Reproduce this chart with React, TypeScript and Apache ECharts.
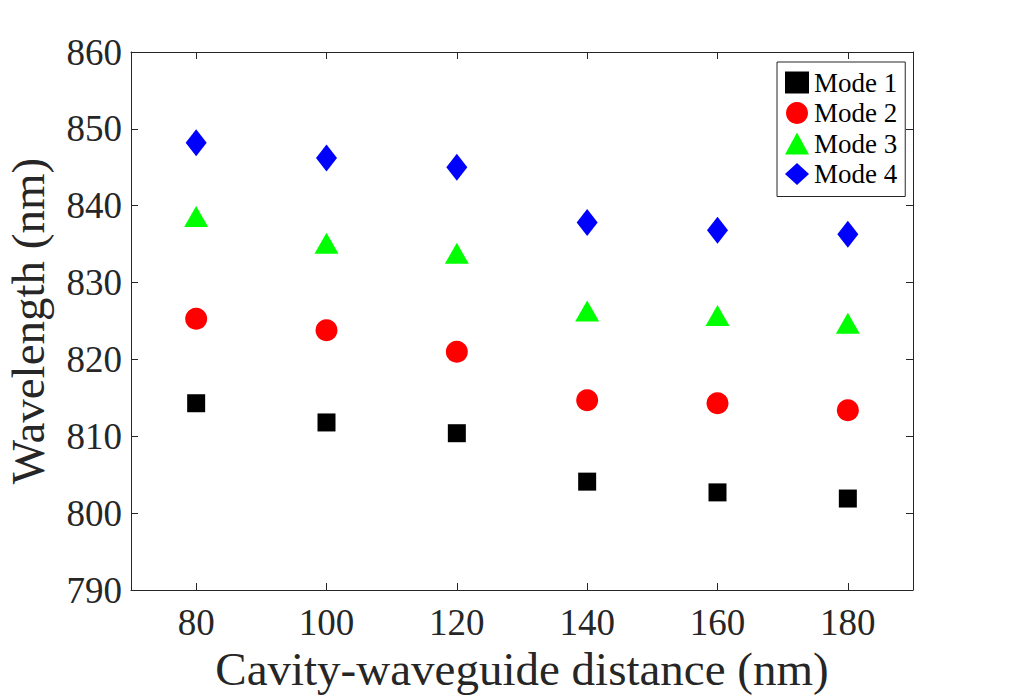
import React, { useEffect, useRef } from "react";
import * as echarts from "echarts";

// Cavity-waveguide distance (nm)
const distances = [80, 100, 120, 140, 160, 180];
// Resonance wavelength (nm) for each mode
const mode1 = [814.3, 811.8, 810.4, 804.1, 802.7, 801.9];
const mode2 = [825.3, 823.8, 821.0, 814.7, 814.3, 813.4];
const mode3 = [838.6, 835.1, 833.8, 826.3, 825.7, 824.7];
const mode4 = [848.2, 846.2, 845.0, 837.8, 836.8, 836.3];
const modeNames = ["Mode 1", "Mode 2", "Mode 3", "Mode 4"];

const FONT = "'Liberation Serif', 'Times New Roman', serif";
const INK = "#262626";

export default function App() {
  const ref = useRef<HTMLDivElement>(null);

  useEffect(() => {
    if (!ref.current) return;
    const chart = echarts.init(ref.current, undefined, { renderer: "svg" });

    const pairs = (ys: number[]) => distances.map((x, i) => [x, ys[i]]);

    const tickStyle = { show: true, inside: true, length: 7, lineStyle: { color: INK, width: 1 } };
    const lineStyle = { show: true, lineStyle: { color: INK, width: 1 } };

    chart.setOption({
      animation: false,
      backgroundColor: "#ffffff",
      grid: {
        left: 131,
        right: 98,
        top: 52,
        bottom: 110,
        containLabel: false,
        outerBoundsMode: "none",
      },
      legend: {
        orient: "vertical",
        left: 777,
        top: 62,
        padding: [7, 8, 9, 8],
        itemGap: 3.5,
        itemWidth: 24,
        itemHeight: 22,
        borderColor: INK,
        borderWidth: 1,
        backgroundColor: "#ffffff",
        data: modeNames,
        textStyle: { fontFamily: FONT, fontSize: 27, color: "#000", lineHeight: 22, padding: [0, 0, 0, 0] },
      },
      xAxis: [
        {
          type: "value",
          min: 70,
          max: 190,
          name: "Cavity-waveguide distance (nm)",
          nameLocation: "middle",
          nameGap: 52,
          nameTextStyle: { fontFamily: FONT, fontSize: 47, color: INK },
          axisLine: lineStyle,
          axisTick: { ...tickStyle, customValues: distances },
          axisLabel: { fontFamily: FONT, fontSize: 37, color: INK, margin: 14, customValues: distances },
          splitLine: { show: false },
        },
        {
          type: "value",
          position: "top",
          min: 70,
          max: 190,
          axisLine: lineStyle,
          axisTick: { ...tickStyle, customValues: distances },
          axisLabel: { show: false },
          splitLine: { show: false },
        },
      ],
      yAxis: [
        {
          type: "value",
          min: 790,
          max: 860,
          interval: 10,
          name: "Wavelength (nm)",
          nameLocation: "middle",
          nameGap: 80,
          nameTextStyle: { fontFamily: FONT, fontSize: 47, color: INK },
          axisLine: lineStyle,
          axisTick: tickStyle,
          axisLabel: { fontFamily: FONT, fontSize: 37, color: INK, margin: 9 },
          splitLine: { show: false },
        },
        {
          type: "value",
          position: "right",
          min: 790,
          max: 860,
          interval: 10,
          axisLine: lineStyle,
          axisTick: tickStyle,
          axisLabel: { show: false },
          splitLine: { show: false },
        },
      ],
      series: [
        {
          name: modeNames[0],
          type: "scatter",
          symbol: "rect",
          symbolSize: 18,
          itemStyle: { color: "#000000", opacity: 1 },
          data: pairs(mode1),
        },
        {
          name: modeNames[1],
          type: "scatter",
          symbol: "circle",
          symbolSize: 22,
          itemStyle: { color: "#ff0000", opacity: 1 },
          data: pairs(mode2),
        },
        {
          name: modeNames[2],
          type: "scatter",
          symbol: "triangle",
          symbolSize: [24, 21],
          itemStyle: { color: "#00ff00", opacity: 1 },
          data: pairs(mode3),
        },
        {
          name: modeNames[3],
          type: "scatter",
          symbol: "diamond",
          symbolSize: [21, 27],
          itemStyle: { color: "#0000ff", opacity: 1 },
          data: pairs(mode4),
        },
      ],
    });

    return () => chart.dispose();
  }, []);

  return (
    <div
      ref={ref}
      style={{ position: "fixed", left: 0, top: 0, width: 1011, height: 700, background: "#fff" }}
    />
  );
}
